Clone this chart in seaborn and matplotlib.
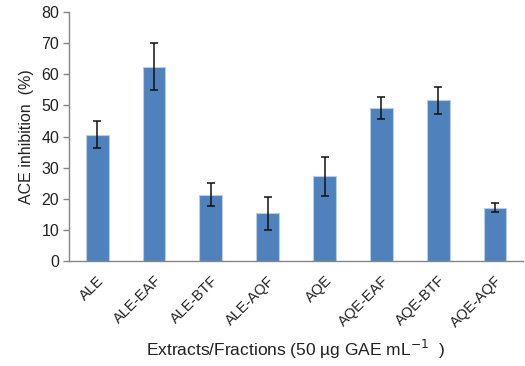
import matplotlib
matplotlib.use("Agg")
import matplotlib.pyplot as plt
import seaborn as sns
import pandas as pd
import numpy as np

categories = ["ALE", "ALE-EAF", "ALE-BTF", "ALE-AQF", "AQE", "AQE-EAF", "AQE-BTF", "AQE-AQF"]
inhibition = [40.6, 62.5, 21.3, 15.4, 27.2, 49.1, 51.6, 17.1]
errors = [4.3, 7.4, 3.6, 5.3, 6.3, 3.6, 4.3, 1.4]
y_ticks = [0, 10, 20, 30, 40, 50, 60, 70, 80]

sns.set_style("white")
plt.rcParams['font.family'] = ['Liberation Sans', 'DejaVu Sans']

df = pd.DataFrame({"cat": categories, "val": inhibition})

fig = plt.figure(figsize=(5.25, 3.66), dpi=100)
ax = fig.add_axes([0.131, 0.287, 0.866, 0.68])

sns.barplot(data=df, x="cat", y="val", color="#4F81BD", saturation=1, width=0.4,
            edgecolor="#B9CDE5", linewidth=0.8, ax=ax, errorbar=None)
ax.errorbar(np.arange(len(categories)), inhibition, yerr=errors, fmt="none",
            ecolor="#111111", elinewidth=1.1, capsize=3, capthick=1.1)

ax.set_ylim(0, 80)
ax.set_xlim(-0.5, len(categories) - 0.5)
ax.set_yticks(y_ticks)
ax.set_yticklabels([str(t) for t in y_ticks], fontsize=11.5, color="#222222")
ax.set_xticks(np.arange(len(categories)))
ax.set_xticklabels(categories, rotation=45, ha="right", rotation_mode="anchor",
                   fontsize=10.5, color="#222222")
ax.set_xticks(np.arange(-0.5, len(categories)), minor=True)
ax.tick_params(axis="x", which="major", length=0, pad=9)
ax.tick_params(axis="x", which="minor", length=4, color="#868686", width=1)
ax.tick_params(axis="y", which="major", length=4, color="#868686", width=1, pad=3, left=True)

for s in ["top", "right"]:
    ax.spines[s].set_visible(False)
for s in ["left", "bottom"]:
    ax.spines[s].set_color("#868686")
    ax.spines[s].set_linewidth(1)

ax.set_ylabel("ACE inhibition  (%)", fontsize=11.5, color="#222222", labelpad=5)
ax.set_xlabel("")
fig.text(0.563, 0.044, "Extracts/Fractions (50 µg GAE mL$^{-1}$  )", fontsize=12.5,
         color="#222222", ha="center", va="center")

fig.savefig("out.png", dpi=100)
